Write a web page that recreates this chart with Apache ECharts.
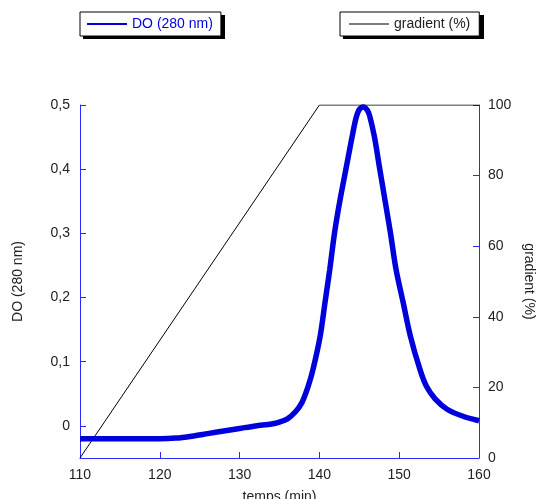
<!DOCTYPE html>
<html>
<head>
<meta charset="utf-8">
<script src="https://cdn.jsdelivr.net/npm/echarts@6/dist/echarts.min.js"></script>
<style>html,body{margin:0;padding:0;background:#fff}#c{width:536px;height:499px}</style>
</head>
<body>
<div id="c"></div>
<script>
// DO (280 nm) absorbance curve: time (min), value
const doTimes = [110, 112, 115, 118, 120, 122, 124, 126, 128, 130, 132, 134, 135, 136, 137, 137.8, 138.6, 139.2, 140.1, 140.7, 141.3, 141.9, 142.6, 143.4, 144.2, 144.6, 145.0, 145.5, 146.0, 146.3, 146.9, 147.5, 148.2, 148.9, 149.6, 150.5, 151.4, 152.6, 153.4, 154.5, 156, 158, 160];
const doValues = [-0.02, -0.02, -0.02, -0.02, -0.02, -0.019, -0.016, -0.012, -0.008, -0.004, 0.0, 0.003, 0.006, 0.011, 0.022, 0.036, 0.062, 0.088, 0.140, 0.192, 0.244, 0.301, 0.353, 0.405, 0.457, 0.480, 0.493, 0.497, 0.492, 0.483, 0.45, 0.405, 0.353, 0.301, 0.244, 0.192, 0.140, 0.088, 0.062, 0.042, 0.026, 0.015, 0.008];
// gradient (%)
const gradTimes = [110, 140, 160];
const gradValues = [0, 100, 100];
// tick labels
const leftTicks = [0, 0.1, 0.2, 0.3, 0.4, 0.5];
const seriesNames = ['DO (280 nm)', 'gradient (%)'];
const axisNames = ['temps (min)', 'DO (280 nm)', 'gradient (%)'];

const FONT = 'Liberation Sans, Arial, Helvetica, sans-serif';
const AXIS_BLUE = '#2a2aff';
const CURVE_BLUE = '#0000dd';
const TXT = '#222';

const chart = echarts.init(document.getElementById('c'), null, {renderer: 'canvas'});
const legendBase = {
  orient: 'horizontal', top: 12, itemWidth: 40, itemHeight: 14, itemGap: 0,
  backgroundColor: '#fff', borderColor: '#000', borderWidth: 1, borderRadius: 0,
  selectedMode: false, z: 10
};
chart.setOption({
  animation: false,
  backgroundColor: '#fff',
  textStyle: {fontFamily: FONT},
  grid: {left: 80, right: 57, top: 105, bottom: 41, containLabel: false, outerBoundsMode: 'none'},
  graphic: [
    {type: 'rect', left: 83, top: 15, z: 1, shape: {width: 142, height: 24}, style: {fill: '#000'}},
    {type: 'rect', left: 343, top: 15, z: 1, shape: {width: 141, height: 24}, style: {fill: '#000'}}
  ],
  legend: [
    Object.assign({}, legendBase, {
      left: 80, padding: [5, 8, 5, 7], data: [seriesNames[0]],
      icon: 'path://M0,6 L40,6 L40,8 L0,8 Z',
      itemStyle: {color: CURVE_BLUE},
      textStyle: {color: CURVE_BLUE, fontSize: 14, fontFamily: FONT}
    }),
    Object.assign({}, legendBase, {
      left: 340, padding: [5, 9, 5, 9], data: [seriesNames[1]],
      icon: 'path://M0,6.5 L40,6.5 L40,7.5 L0,7.5 Z',
      itemStyle: {color: '#000'},
      textStyle: {color: TXT, fontSize: 14, fontFamily: FONT}
    })
  ],
  xAxis: {
    type: 'value', min: 110, max: 160, interval: 10,
    name: axisNames[0], nameLocation: 'middle', nameGap: 32,
    nameTextStyle: {color: TXT, fontSize: 14, fontFamily: FONT},
    axisLine: {show: true, onZero: false, lineStyle: {color: AXIS_BLUE, width: 1}},
    axisTick: {show: true, inside: true, length: 6, lineStyle: {color: AXIS_BLUE}},
    axisLabel: {color: TXT, fontSize: 14, margin: 10, fontFamily: FONT},
    splitLine: {show: false}
  },
  yAxis: [
    {
      type: 'value', min: -0.05, max: 0.5, position: 'left',
      name: axisNames[1], nameLocation: 'middle', nameGap: 55, nameRotate: 90,
      nameTextStyle: {color: TXT, fontSize: 14, fontFamily: FONT},
      axisLine: {show: true, onZero: false, lineStyle: {color: AXIS_BLUE, width: 1}},
      axisTick: {show: true, inside: true, length: 6, customValues: leftTicks, lineStyle: {color: AXIS_BLUE}},
      axisLabel: {color: TXT, fontSize: 14, margin: 10, fontFamily: FONT, customValues: leftTicks,
        formatter: v => String(Math.round(v * 10) / 10).replace('.', ',')},
      splitLine: {show: false}
    },
    {
      type: 'value', min: 0, max: 100, interval: 20, position: 'right',
      name: axisNames[2], nameLocation: 'middle', nameGap: 42, nameRotate: -90,
      nameTextStyle: {color: TXT, fontSize: 14, fontFamily: FONT},
      axisLine: {show: true, onZero: false, lineStyle: {color: AXIS_BLUE, width: 1}},
      axisTick: {show: true, inside: true, length: 6, lineStyle: {color: AXIS_BLUE}},
      axisLabel: {color: TXT, fontSize: 14, margin: 9, fontFamily: FONT},
      splitLine: {show: false}
    }
  ],
  series: [
    {
      name: seriesNames[1], type: 'line', yAxisIndex: 1, symbol: 'none',
      data: gradTimes.map((t, i) => [t, gradValues[i]]),
      lineStyle: {color: '#000', width: 1}, itemStyle: {color: '#000'}, z: 2
    },
    {
      name: seriesNames[0], type: 'line', yAxisIndex: 0, symbol: 'none', smooth: 0.3,
      data: doTimes.map((t, i) => [t, doValues[i]]),
      lineStyle: {color: CURVE_BLUE, width: 5.5}, itemStyle: {color: CURVE_BLUE}, z: 3
    }
  ]
});
</script>
</body>
</html>
